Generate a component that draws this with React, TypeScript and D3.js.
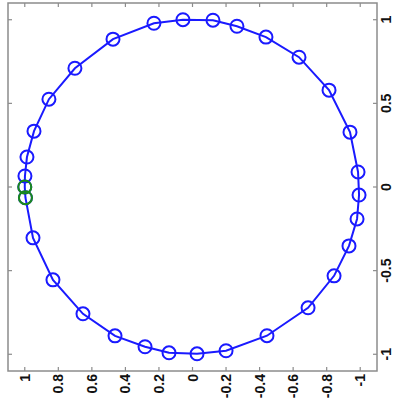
import React from "react";
import * as d3 from "d3";

// Horizontal coordinate (bottom axis, decreasing left to right) and vertical coordinate (right axis)
const blueU = [1.0, 0.999, 0.987, 0.945, 0.856, 0.701, 0.474, 0.23, 0.057, -0.122, -0.265, -0.438, -0.635, -0.814, -0.939, -0.987, -0.993, -0.981, -0.933, -0.844, -0.689, -0.444, -0.2, -0.027, 0.14, 0.283, 0.462, 0.653, 0.832, 0.951, 0.996];
const blueV = [0.0, 0.066, 0.179, 0.334, 0.525, 0.71, 0.884, 0.979, 1.0, 0.997, 0.961, 0.896, 0.776, 0.579, 0.328, 0.09, -0.048, -0.191, -0.352, -0.531, -0.722, -0.889, -0.979, -0.997, -0.991, -0.955, -0.89, -0.758, -0.555, -0.304, -0.064];
const greenU = [1.0, 0.996];
const greenV = [0.0, -0.064];

const uTicks = [1, 0.8, 0.6, 0.4, 0.2, 0, -0.2, -0.4, -0.6, -0.8, -1];
const uTickLabels = ["1", "0.8", "0.6", "0.4", "0.2", "0", "-0.2", "-0.4", "-0.6", "-0.8", "-1"];
const vTicks = [1, 0.5, 0, -0.5, -1];
const vTickLabels = ["1", "0.5", "0", "-0.5", "-1"];

const W = 395;
const H = 412;
const box = { left: 8, right: 377, top: 3, bottom: 371 };

export default function App() {
  const x = d3.scaleLinear().domain([1.1, -1.1]).range([box.left, box.right]);
  const y = d3.scaleLinear().domain([-1.1, 1.1]).range([box.bottom, box.top]);

  const blue = blueU.map((u, i) => [u, blueV[i]] as [number, number]);
  const green = greenU.map((u, i) => [u, greenV[i]] as [number, number]);

  const line = d3
    .line<[number, number]>()
    .x((d) => x(d[0]))
    .y((d) => y(d[1]))
    .curve(d3.curveLinearClosed);

  const axisColor = "#8c8c8c";
  const tickLen = 4;
  const r = 6.5;

  return (
    <svg
      width={W}
      height={H}
      style={{ position: "absolute", left: 0, top: 0, background: "#fff" }}
      fontFamily="'Liberation Sans', Arial, Helvetica, sans-serif"
    >
      <rect x={0} y={0} width={W} height={H} fill="#fff" />
      {/* ticks on all four sides, pointing inward */}
      {uTicks.map((t) => (
        <g key={"ut" + t}>
          <line x1={x(t)} x2={x(t)} y1={box.top} y2={box.top + tickLen} stroke={axisColor} strokeWidth={1.2} />
          <line x1={x(t)} x2={x(t)} y1={box.bottom} y2={box.bottom - tickLen} stroke={axisColor} strokeWidth={1.2} />
        </g>
      ))}
      {vTicks.map((t) => (
        <g key={"vt" + t}>
          <line x1={box.left} x2={box.left + tickLen} y1={y(t)} y2={y(t)} stroke={axisColor} strokeWidth={1.2} />
          <line x1={box.right} x2={box.right - tickLen} y1={y(t)} y2={y(t)} stroke={axisColor} strokeWidth={1.2} />
        </g>
      ))}
      <rect
        x={box.left}
        y={box.top}
        width={box.right - box.left}
        height={box.bottom - box.top}
        fill="none"
        stroke={axisColor}
        strokeWidth={1.5}
      />

      {/* blue trajectory */}
      <path d={line(blue) ?? ""} fill="none" stroke="#1a1aff" strokeWidth={2} />
      {blue.map((d, i) => (
        <circle key={"b" + i} cx={x(d[0])} cy={y(d[1])} r={r} fill="none" stroke="#1a1aff" strokeWidth={2} />
      ))}
      {green.map((d, i) => (
        <circle key={"g" + i} cx={x(d[0])} cy={y(d[1])} r={r} fill="none" stroke="#1a8a1a" strokeWidth={2} />
      ))}

      {/* bottom tick labels, reading upward */}
      {uTicks.map((t, i) => (
        <text
          key={"ul" + t}
          transform={`translate(${x(t)},${box.bottom + 3}) rotate(-90)`}
          textAnchor="end"
          dy="0.36em"
          fontSize={14}
          fontWeight="bold"
          fill="#111"
        >
          {uTickLabels[i]}
        </text>
      ))}
      {/* right tick labels, reading upward */}
      {vTicks.map((t, i) => (
        <text
          key={"vl" + t}
          transform={`translate(${box.right + 9},${y(t)}) rotate(-90)`}
          textAnchor="middle"
          dy="0.36em"
          fontSize={14}
          fontWeight="bold"
          fill="#111"
        >
          {vTickLabels[i]}
        </text>
      ))}
    </svg>
  );
}
